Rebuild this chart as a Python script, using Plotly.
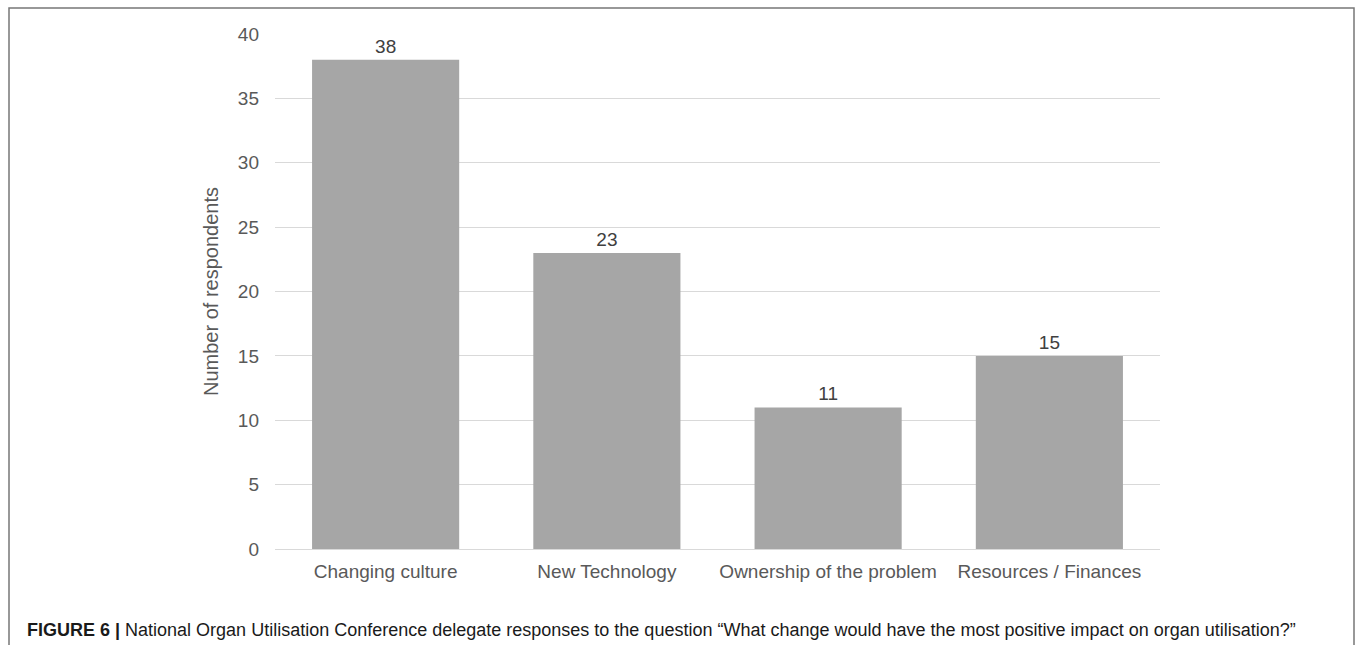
import plotly.graph_objects as go

categories = ["Changing culture", "New Technology", "Ownership of the problem", "Resources / Finances"]
values = [38, 23, 11, 15]
y_ticks = [0, 5, 10, 15, 20, 25, 30, 35, 40]

W, H = 1355, 645
L, R, T, B = 275, 1160, 34, 549
pw, ph = R - L, B - T

def px(x):
    return (x - L) / pw

def py(y):
    return (B - y) / ph

fig = go.Figure()
fig.add_trace(go.Bar(
    x=categories, y=values,
    marker=dict(color="#a6a6a6", line=dict(width=0)),
    text=[str(v) for v in values], textposition="outside",
    textfont=dict(family="Liberation Sans, Arial", size=19, color="#404040"),
    cliponaxis=False,
))

fig.update_layout(
    width=W, height=H,
    margin=dict(l=L, r=W - R, t=T, b=H - B),
    paper_bgcolor="white", plot_bgcolor="white",
    bargap=0.335,
    showlegend=False,
    font=dict(family="Liberation Sans, Arial", color="#595959", size=19),
    xaxis=dict(
        showgrid=False, showline=True, linecolor="#d9d9d9", linewidth=1,
        tickfont=dict(size=19, color="#595959"), ticks="", ticklabelstandoff=5,
    ),
    yaxis=dict(
        range=[0, 40], tickvals=y_ticks, showgrid=True, gridcolor="#d9d9d9",
        gridwidth=1, zeroline=False, showline=False, ticks="",
        tickfont=dict(size=19, color="#595959"), ticklabelstandoff=15,
        title=dict(text="Number of respondents", font=dict(size=20, color="#595959"), standoff=13),
    ),
    shapes=[dict(
        type="rect", xref="paper", yref="paper",
        x0=px(9), x1=px(1354), y0=py(660), y1=py(8),
        line=dict(color="#777777", width=1.5), fillcolor="rgba(0,0,0,0)",
    )],
    annotations=[dict(
        xref="paper", yref="paper", x=px(25), y=py(630),
        xanchor="left", yanchor="middle", showarrow=False,
        text="<b>FIGURE 6 |</b> National Organ Utilisation Conference delegate responses to the question \u201cWhat change would have the most positive impact on organ utilisation?\u201d",
        font=dict(family="Liberation Sans, Arial", size=18, color="#1a1a1a"),
    )],
)

fig.write_html("out.html")
